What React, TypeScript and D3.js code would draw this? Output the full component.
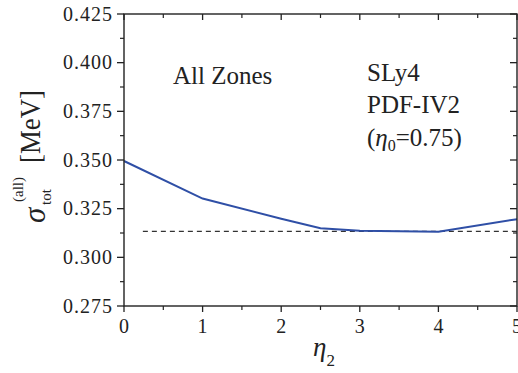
import React from "react";
import * as d3 from "d3";

// σ_tot(all) versus η2 for all zones (SLy4, PDF-IV2, η0 = 0.75)
const eta2 = [0, 1, 2, 2.5, 3, 4, 5];
const sigmaTot = [0.3495, 0.3302, 0.3198, 0.3149, 0.3137, 0.3132, 0.3196];
const refLevel = 0.3133;
const refStart = 0.24;

const xTicks = [0, 1, 2, 3, 4, 5];
const xMinorTicks = [0.5, 1.5, 2.5, 3.5, 4.5];
const yTicks = [0.275, 0.3, 0.325, 0.35, 0.375, 0.4, 0.425];
const yMinorTicks = [0.2875, 0.3125, 0.3375, 0.3625, 0.3875, 0.4125];

const W = 518;
const H = 373;
const left = 124;
const right = 517;
const top = 14;
const bottom = 306;
const font = { fontFamily: '"Liberation Serif"' };

export default function App() {
  const x = d3.scaleLinear().domain([0, 5]).range([left, right]);
  const y = d3.scaleLinear().domain([0.275, 0.425]).range([bottom, top]);

  const line = d3
    .line<number>()
    .x((_, i) => x(eta2[i]))
    .y((d) => y(d));

  const axisColor = "#222";

  return (
    <svg
      width={W}
      height={H}
      style={{ position: "absolute", left: 0, top: 0, background: "#fff" }}
    >
      {/* reference dashed level */}
      <line
        x1={x(refStart)}
        x2={right}
        y1={y(refLevel)}
        y2={y(refLevel)}
        stroke="#333"
        strokeWidth={1.2}
        strokeDasharray="5,4"
      />
      {/* data curve */}
      <path d={line(sigmaTot) ?? ""} fill="none" stroke="#2f4fa6" strokeWidth={2} />

      {/* frame */}
      <rect
        x={left}
        y={top}
        width={right - left}
        height={bottom - top}
        fill="none"
        stroke={axisColor}
        strokeWidth={1.4}
      />

      {/* y ticks: outward on the left, inward on the right */}
      {yTicks.map((v) => (
        <g key={"yt" + v}>
          <line x1={left - 7} x2={left} y1={y(v)} y2={y(v)} stroke={axisColor} strokeWidth={1.3} />
          <line x1={right - 7} x2={right} y1={y(v)} y2={y(v)} stroke={axisColor} strokeWidth={1.3} />
          <text
            x={left - 11}
            y={y(v) + 6.5}
            textAnchor="end"
            fontSize={20}
            letterSpacing={1}
            fill="#222"
            style={font}
          >
            {d3.format(".3f")(v)}
          </text>
        </g>
      ))}
      {yMinorTicks.map((v) => (
        <g key={"ym" + v}>
          <line x1={left - 4} x2={left} y1={y(v)} y2={y(v)} stroke={axisColor} strokeWidth={1.2} />
          <line x1={right - 4} x2={right} y1={y(v)} y2={y(v)} stroke={axisColor} strokeWidth={1.2} />
        </g>
      ))}

      {/* x ticks: outward at the bottom, inward at the top */}
      {xTicks.map((v) => (
        <g key={"xt" + v}>
          <line x1={x(v)} x2={x(v)} y1={bottom} y2={bottom + 6} stroke={axisColor} strokeWidth={1.3} />
          <line x1={x(v)} x2={x(v)} y1={top} y2={top + 6} stroke={axisColor} strokeWidth={1.3} />
          <text x={x(v)} y={333} textAnchor="middle" fontSize={20} fill="#222" style={font}>
            {v}
          </text>
        </g>
      ))}
      {xMinorTicks.map((v) => (
        <g key={"xm" + v}>
          <line x1={x(v)} x2={x(v)} y1={bottom} y2={bottom + 4} stroke={axisColor} strokeWidth={1.2} />
          <line x1={x(v)} x2={x(v)} y1={top} y2={top + 4} stroke={axisColor} strokeWidth={1.2} />
        </g>
      ))}

      {/* annotations */}
      <text x={173} y={84} fontSize={25} fill="#222" style={font}>
        All Zones
      </text>
      <text x={367} y={81} fontSize={25} fill="#222" style={font}>
        SLy4
      </text>
      <text x={367} y={113} fontSize={25} fill="#222" style={font}>
        PDF-IV2
      </text>
      <text x={367} y={146} fontSize={25} fill="#222" style={font}>
        (<tspan fontStyle="italic">η</tspan>
        <tspan fontSize={16} dy={5}>0</tspan>
        <tspan dy={-5}>=0.75)</tspan>
      </text>

      {/* x-axis title */}
      <text x={313} y={356} fontSize={27} fill="#222" style={font}>
        <tspan fontStyle="italic">η</tspan>
        <tspan fontSize={17} dy={10}>2</tspan>
      </text>

      {/* y-axis title */}
      <g transform="translate(45,223) rotate(-90)" fill="#222">
        <text x={0} y={0} fontSize={31} fontStyle="italic" style={font}>
          σ
        </text>
        <text x={18} y={6} fontSize={15} style={font}>
          tot
        </text>
        <text x={21} y={-22} fontSize={15} style={font}>
          (all)
        </text>
        <text
          x={60}
          y={-5}
          fontSize={30}
          textLength={73}
          lengthAdjust="spacingAndGlyphs"
          style={font}
        >
          [MeV]
        </text>
      </g>
    </svg>
  );
}
